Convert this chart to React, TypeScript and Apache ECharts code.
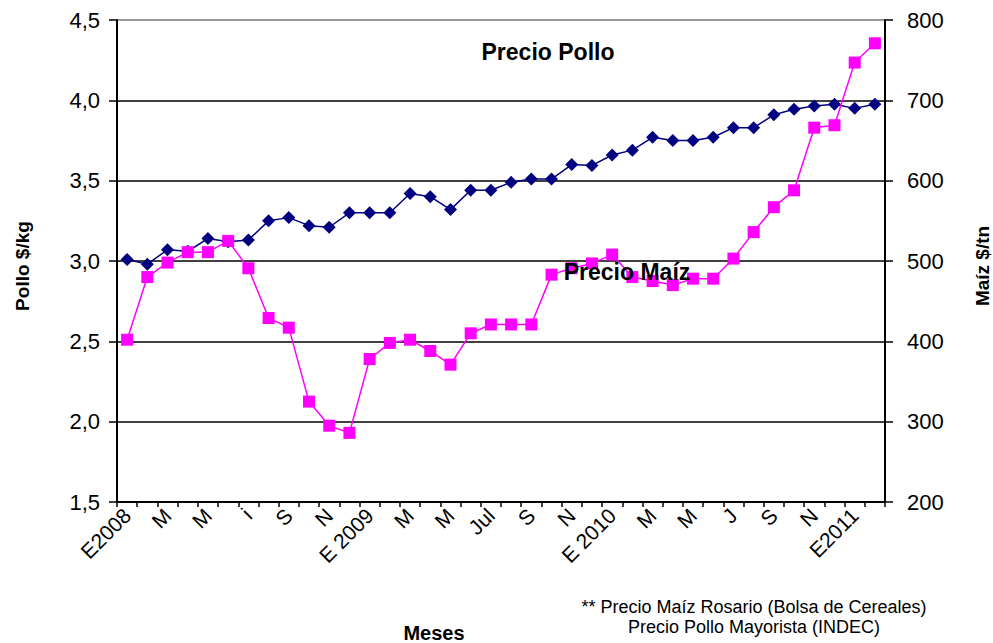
import React, { useEffect, useRef } from "react";
import * as echarts from "echarts";

const categories = [
  "E2008", "F", "M", "A", "M", "J", "i", "A", "S", "O", "N", "D",
  "E 2009", "F", "M", "A", "M", "J", "Jul", "A", "S", "O", "N", "D",
  "E 2010", "F", "M", "A", "M", "J", "J", "A", "S", "O", "N", "D",
  "E2011", "F",
];

const polloValues = [
  3.01, 2.98, 3.07, 3.06, 3.14, 3.12, 3.13, 3.25, 3.27, 3.22, 3.21, 3.30,
  3.30, 3.30, 3.42, 3.40, 3.32, 3.44, 3.44, 3.49, 3.51, 3.51, 3.60, 3.595,
  3.66, 3.69, 3.77, 3.75, 3.75, 3.77, 3.83, 3.83, 3.91, 3.945, 3.965, 3.975,
  3.95, 3.975,
];

const maizValues = [
  402, 480, 498, 511, 511, 525, 491, 429, 417, 325, 295, 286,
  378, 398, 402, 388, 371, 410, 421, 421, 421, 483, 491, 497,
  508, 480, 475, 470, 478, 478, 503, 536, 567, 588, 666, 669,
  747, 771,
];

const leftTicks = { min: 1.5, max: 4.5, interval: 0.5 };
const rightTicks = { min: 200, max: 800, interval: 100 };

export default function App() {
  const ref = useRef<HTMLDivElement>(null);

  useEffect(() => {
    if (!ref.current) return;
    const chart = echarts.init(ref.current, null, { renderer: "svg" });
    const font = "Liberation Sans, Arial, sans-serif";
    chart.setOption({
      animation: false,
      textStyle: { fontFamily: font },
      grid: { left: 117, right: 108, top: 20, bottom: 141, containLabel: false },
      xAxis: {
        type: "category",
        data: categories,
        boundaryGap: true,
        axisLine: { show: true, lineStyle: { color: "#000", width: 2 } },
        axisTick: { show: true, interval: 0, length: 5, lineStyle: { color: "#000", width: 1.5 } },
        axisLabel: {
          interval: 1,
          rotate: 45,
          margin: 10,
          color: "#000",
          fontSize: 21,
          fontFamily: font,
        },
        splitLine: { show: false },
      },
      yAxis: [
        {
          type: "value",
          min: leftTicks.min,
          max: leftTicks.max,
          interval: leftTicks.interval,
          position: "left",
          axisLine: { show: true, lineStyle: { color: "#000", width: 2 } },
          axisTick: { show: true, length: 8, lineStyle: { color: "#000", width: 1.5 } },
          axisLabel: {
            color: "#000",
            fontSize: 22,
            margin: 17,
            fontFamily: font,
            formatter: (v: number) => v.toFixed(1).replace(".", ","),
          },
          splitLine: {
            show: true,
            lineStyle: {
              color: ["#000", "#000", "#000", "#000", "#000", "#000", "#777"],
              width: 1.5,
            },
          },
        },
        {
          type: "value",
          min: rightTicks.min,
          max: rightTicks.max,
          interval: rightTicks.interval,
          position: "right",
          axisLine: { show: true, lineStyle: { color: "#000", width: 2 } },
          axisTick: { show: true, length: 8, lineStyle: { color: "#000", width: 1.5 } },
          axisLabel: { color: "#000", fontSize: 22, margin: 22, fontFamily: font },
          splitLine: { show: false },
        },
      ],
      series: [
        {
          name: "Precio Pollo",
          type: "line",
          yAxisIndex: 0,
          data: polloValues,
          symbol: "diamond",
          symbolSize: 13,
          lineStyle: { color: "#000080", width: 1.5 },
          itemStyle: { color: "#000080" },
          z: 2,
        },
        {
          name: "Precio Maíz",
          type: "line",
          yAxisIndex: 1,
          data: maizValues,
          symbol: "rect",
          symbolSize: 12,
          lineStyle: { color: "#FF00FF", width: 1.5 },
          itemStyle: { color: "#FF00FF" },
          z: 3,
        },
      ],
      graphic: [
        {
          type: "text",
          x: 548,
          y: 52,
          z: 10,
          style: {
            text: "Precio Pollo",
            fontSize: 23,
            fontWeight: "bold",
            fontFamily: font,
            fill: "#000",
            align: "center",
            verticalAlign: "middle",
          },
        },
        {
          type: "text",
          x: 627,
          y: 272,
          z: 10,
          style: {
            text: "Precio Maíz",
            fontSize: 23,
            fontWeight: "bold",
            fontFamily: font,
            fill: "#000",
            align: "center",
            verticalAlign: "middle",
          },
        },
        {
          type: "text",
          x: 22,
          y: 266,
          rotation: Math.PI / 2,
          style: {
            text: "Pollo $/kg",
            fontSize: 19,
            fontWeight: "bold",
            fontFamily: font,
            fill: "#000",
            align: "center",
            verticalAlign: "middle",
          },
        },
        {
          type: "text",
          x: 982,
          y: 266,
          rotation: Math.PI / 2,
          style: {
            text: "Maíz $/tn",
            fontSize: 19,
            fontWeight: "bold",
            fontFamily: font,
            fill: "#000",
            align: "center",
            verticalAlign: "middle",
          },
        },
        {
          type: "text",
          x: 434,
          y: 633,
          style: {
            text: "Meses",
            fontSize: 20,
            fontWeight: "bold",
            fontFamily: font,
            fill: "#000",
            align: "center",
            verticalAlign: "middle",
          },
        },
        {
          type: "text",
          x: 754,
          y: 607,
          style: {
            text: "** Precio Maíz Rosario (Bolsa de Cereales)",
            fontSize: 18,
            fontFamily: font,
            fill: "#000",
            align: "center",
            verticalAlign: "middle",
          },
        },
        {
          type: "text",
          x: 754,
          y: 627,
          style: {
            text: "Precio Pollo Mayorista (INDEC)",
            fontSize: 18,
            fontFamily: font,
            fill: "#000",
            align: "center",
            verticalAlign: "middle",
          },
        },
      ],
    });
    return () => chart.dispose();
  }, []);

  return <div ref={ref} style={{ width: 993, height: 643, position: "absolute", left: 0, top: 0 }} />;
}
